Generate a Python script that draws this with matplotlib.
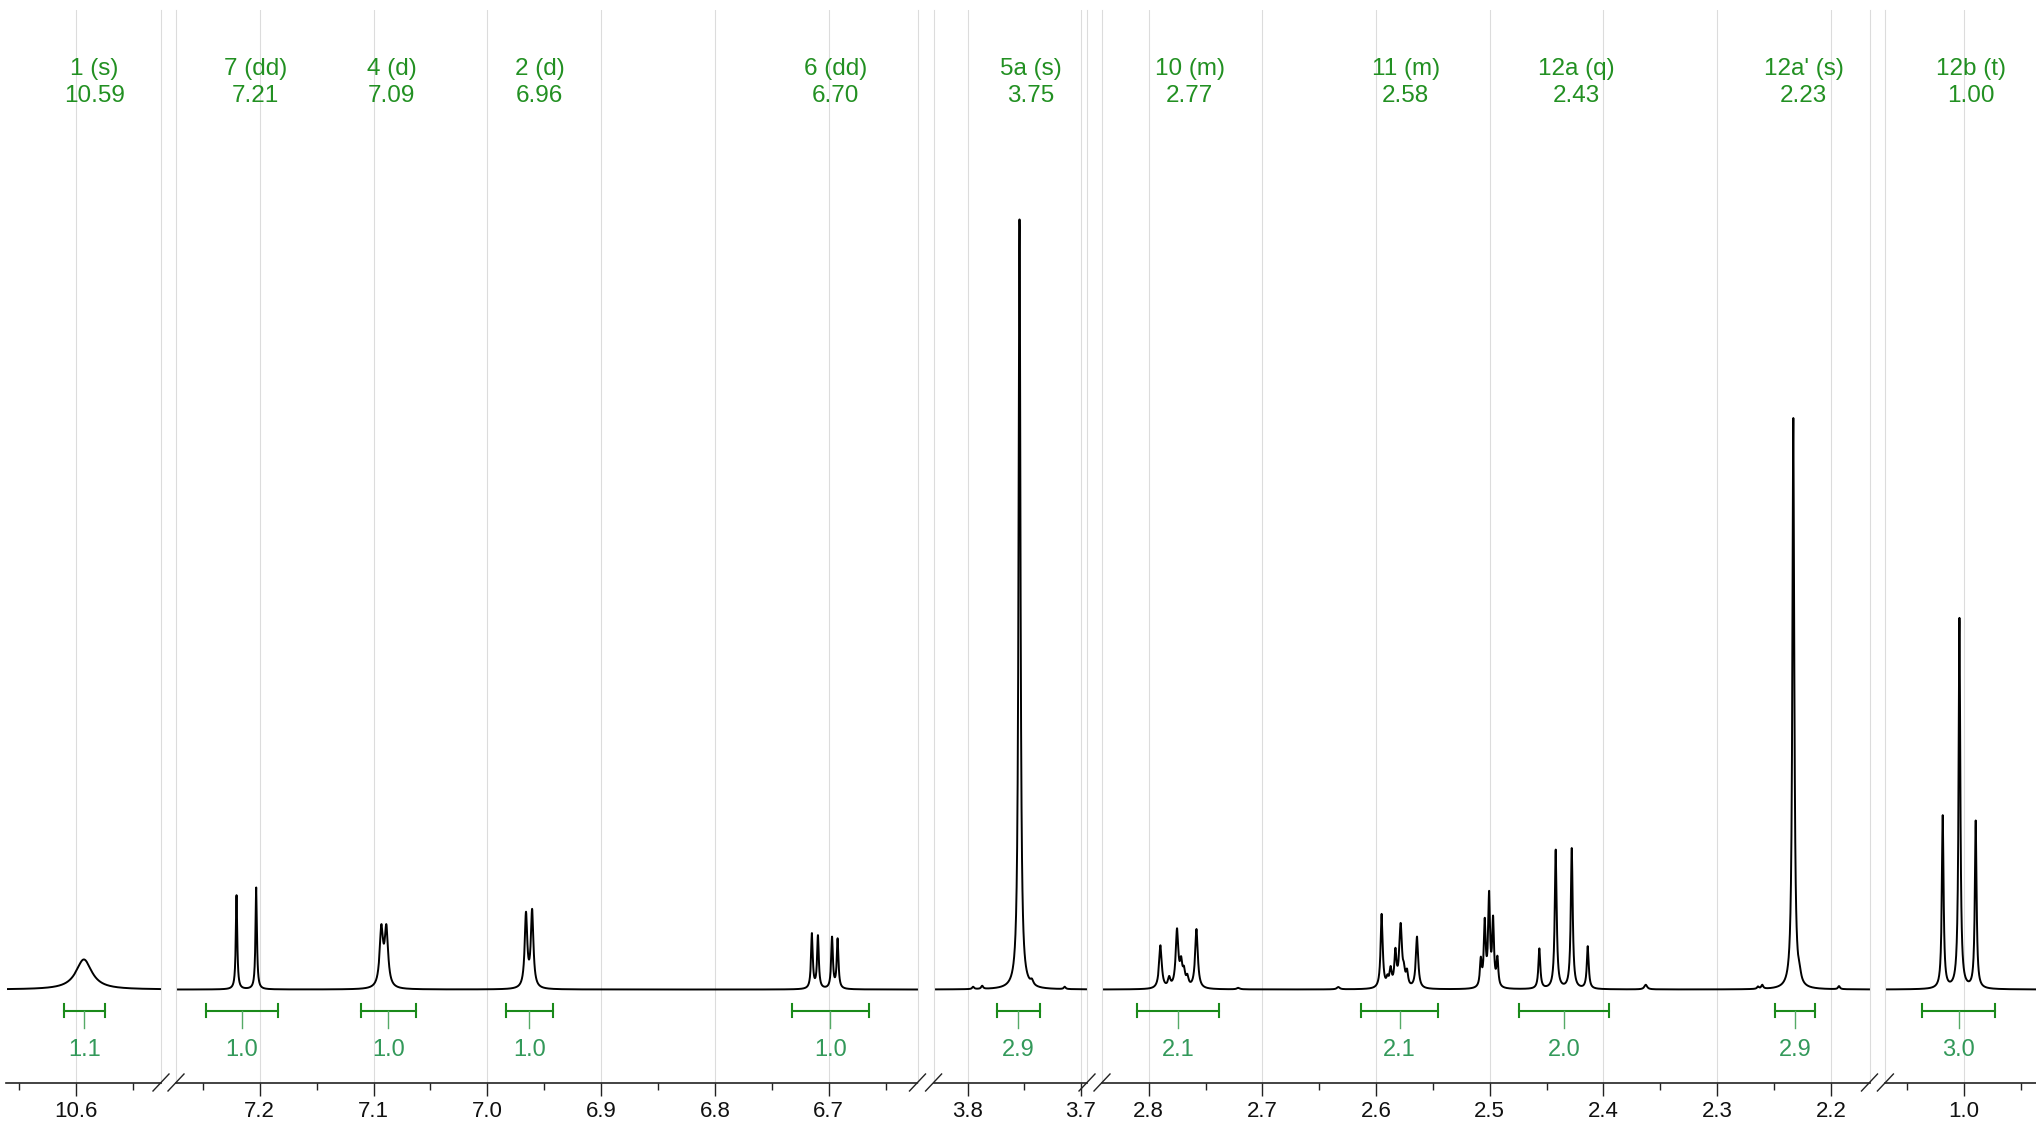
import matplotlib
matplotlib.use('Agg')
import matplotlib.pyplot as plt
import numpy as np
from matplotlib.lines import Line2D
from matplotlib.ticker import MultipleLocator, FormatStrFormatter

plt.rcParams['font.family'] = ['Liberation Sans', 'DejaVu Sans']

# Cac doan truc x (ppm), trai -> phai
seg_left = [10.661, 7.2736, 3.830, 2.8411, 1.0691]
seg_right = [10.5252, 6.6219, 3.6943, 2.1660, 0.9367]

# Danh sach dinh: vi tri (ppm), chieu cao, do rong (FWHM)
peak_ppm = [10.593,
            7.2204, 7.2031, 7.0931, 7.0887, 6.9660, 6.9606,
            6.7147, 6.7094, 6.6970, 6.6921,
            3.795, 3.787, 3.7540, 3.743, 3.714,
            2.7897, 2.7820, 2.7751, 2.7715, 2.7690, 2.7660, 2.7580, 2.7212,
            2.6332, 2.5951, 2.5900, 2.5872, 2.5830, 2.5784, 2.5755, 2.5728, 2.5640,
            2.5079, 2.5044, 2.5006, 2.4971, 2.4933,
            2.4564, 2.4420, 2.4279, 2.4138, 2.3628,
            2.2640, 2.2603, 2.2330, 2.2275, 2.1928,
            1.0187, 1.0040, 0.9897]
peak_h = [3.9,
          12.2, 13.2, 7.4, 7.4, 9.5, 9.9,
          7.1, 6.8, 6.6, 6.4,
          0.3, 0.4, 99.8, 0.6, 0.3,
          5.6, 1.2, 7.4, 2.8, 1.8, 1.2, 7.7, 0.2,
          0.3, 9.6, 1.0, 2.2, 4.4, 8.0, 1.5, 1.8, 6.7,
          3.4, 8.2, 11.6, 8.4, 3.6,
          5.2, 18.0, 18.2, 5.5, 0.6,
          0.3, 0.5, 74.0, 1.0, 0.4,
          22.4, 48.0, 21.7]
peak_w = [0.017,
          0.0015, 0.0015, 0.0036, 0.0036, 0.0027, 0.0027,
          0.0018, 0.0018, 0.0018, 0.0018,
          0.002, 0.002, 0.0020, 0.003, 0.002,
          0.0028, 0.0025, 0.0028, 0.0025, 0.0025, 0.0025, 0.0028, 0.003,
          0.003, 0.0022, 0.0022, 0.0022, 0.0022, 0.0028, 0.0022, 0.0022, 0.0025,
          0.0019, 0.0019, 0.0019, 0.0019, 0.0019,
          0.0020, 0.0020, 0.0020, 0.0020, 0.003,
          0.002, 0.002, 0.0020, 0.003, 0.002,
          0.0018, 0.0018, 0.0018]

# Nhan cac tin hieu
sig_names = ['1 (s)', '7 (dd)', '4 (d)', '2 (d)', '6 (dd)', '5a (s)', '10 (m)', '11 (m)',
             '12a (q)', "12a' (s)", '12b (t)']
sig_shift = [10.59, 7.21, 7.09, 6.96, 6.70, 3.75, 2.77, 2.58, 2.43, 2.23, 1.00]

# Tich phan
int_from = [10.6107, 7.2476, 7.1114, 6.9838, 6.7325, 3.7736, 2.8099, 2.6129, 2.4741, 2.2495, 1.0366]
int_to = [10.5748, 7.1841, 7.0628, 6.9426, 6.6645, 3.7362, 2.7384, 2.5455, 2.3950, 2.2135, 0.9724]
int_val = [1.1, 1.0, 1.0, 1.0, 1.0, 2.9, 2.1, 2.1, 2.0, 2.9, 3.0]

# Bo cuc (pixel)
W, H = 2036, 1122
seg_px = [(6.5, 161), (176, 917.5), (933.6, 1087), (1102, 1869.5), (1885.4, 2036)]
ax_bot, ax_top = 1082.5, 10
ymin, ymax = -12.05, 126.96

lab_col = '#229022'
int_col = '#33995a'
br_col = '#1a8a1a'
grid_col = '#dcdcdc'

fig = plt.figure(figsize=(W / 100, H / 100), dpi=100)

axes = []
for i, (x0, x1) in enumerate(seg_px):
    ax = fig.add_axes([x0 / W, (H - ax_bot) / H, (x1 - x0) / W, (ax_bot - ax_top) / H])
    ax.set_xlim(seg_left[i], seg_right[i])
    ax.set_ylim(ymin, ymax)
    ax.set_axisbelow(True)
    ax.spines['top'].set_visible(False)
    ax.spines['bottom'].set_color('#222222')
    ax.spines['bottom'].set_linewidth(1.2)
    for side in ['left', 'right']:
        ax.spines[side].set_color(grid_col)
        ax.spines[side].set_linewidth(0.8)
    if i == 0:
        ax.spines['left'].set_visible(False)
    if i == len(seg_px) - 1:
        ax.spines['right'].set_visible(False)
    ax.set_yticks([])
    ax.xaxis.set_major_locator(MultipleLocator(0.1))
    ax.xaxis.set_minor_locator(MultipleLocator(0.05))
    ax.xaxis.set_major_formatter(FormatStrFormatter('%.1f'))
    ax.tick_params(axis='x', which='major', length=9, width=1.0, color='#222222',
                   labelsize=16, pad=4, labelcolor='#111111')
    ax.tick_params(axis='x', which='minor', length=5, width=1.0, color='#222222')
    ax.grid(axis='x', which='major', color=grid_col, lw=0.8)

    # pho
    x = np.arange(seg_right[i], seg_left[i], 0.00005)
    y = np.zeros_like(x)
    for p, h, w in zip(peak_ppm, peak_h, peak_w):
        y += h / (1 + ((x - p) / (w / 2)) ** 2)
    ax.plot(x, y, color='black', lw=1.4)
    axes.append(ax)


def seg_of(ppm):
    for i in range(len(seg_left)):
        if seg_right[i] <= ppm <= seg_left[i]:
            return axes[i]
    return axes[0]


# nhan tin hieu
for name, val in zip(sig_names, sig_shift):
    ax = seg_of(val)
    ax.annotate(f'{name}\n{val:.2f}', xy=(val, 117.55), xytext=(5, 0), textcoords='offset points',
                ha='center', va='center', color=lab_col, fontsize=17.5, linespacing=1.3)

# tich phan
yb = -2.75
for lo, hi, v in zip(int_from, int_to, int_val):
    ax = seg_of((lo + hi) / 2)
    mid = (lo + hi) / 2
    ax.plot([lo, hi], [yb, yb], color=br_col, lw=1.5)
    ax.plot([lo, lo], [yb - 0.86, yb + 0.86], color=br_col, lw=1.5)
    ax.plot([hi, hi], [yb - 0.86, yb + 0.86], color=br_col, lw=1.5)
    ax.plot([mid, mid], [yb, -5.0], color='#55aa66', lw=1.0)
    ax.text(mid, -7.85, f'{v:.1f}', ha='center', va='center', color=int_col, fontsize=17)

# dau ngat truc
for i in range(len(seg_px) - 1):
    for cx in (seg_px[i][1], seg_px[i + 1][0]):
        fig.add_artist(Line2D([(cx - 8) / W, (cx + 8) / W],
                              [(H - ax_bot - 8.5) / H, (H - ax_bot + 8.5) / H],
                              transform=fig.transFigure, color='#222222', lw=1.0))

fig.savefig('out.png', dpi=100, facecolor='white')
